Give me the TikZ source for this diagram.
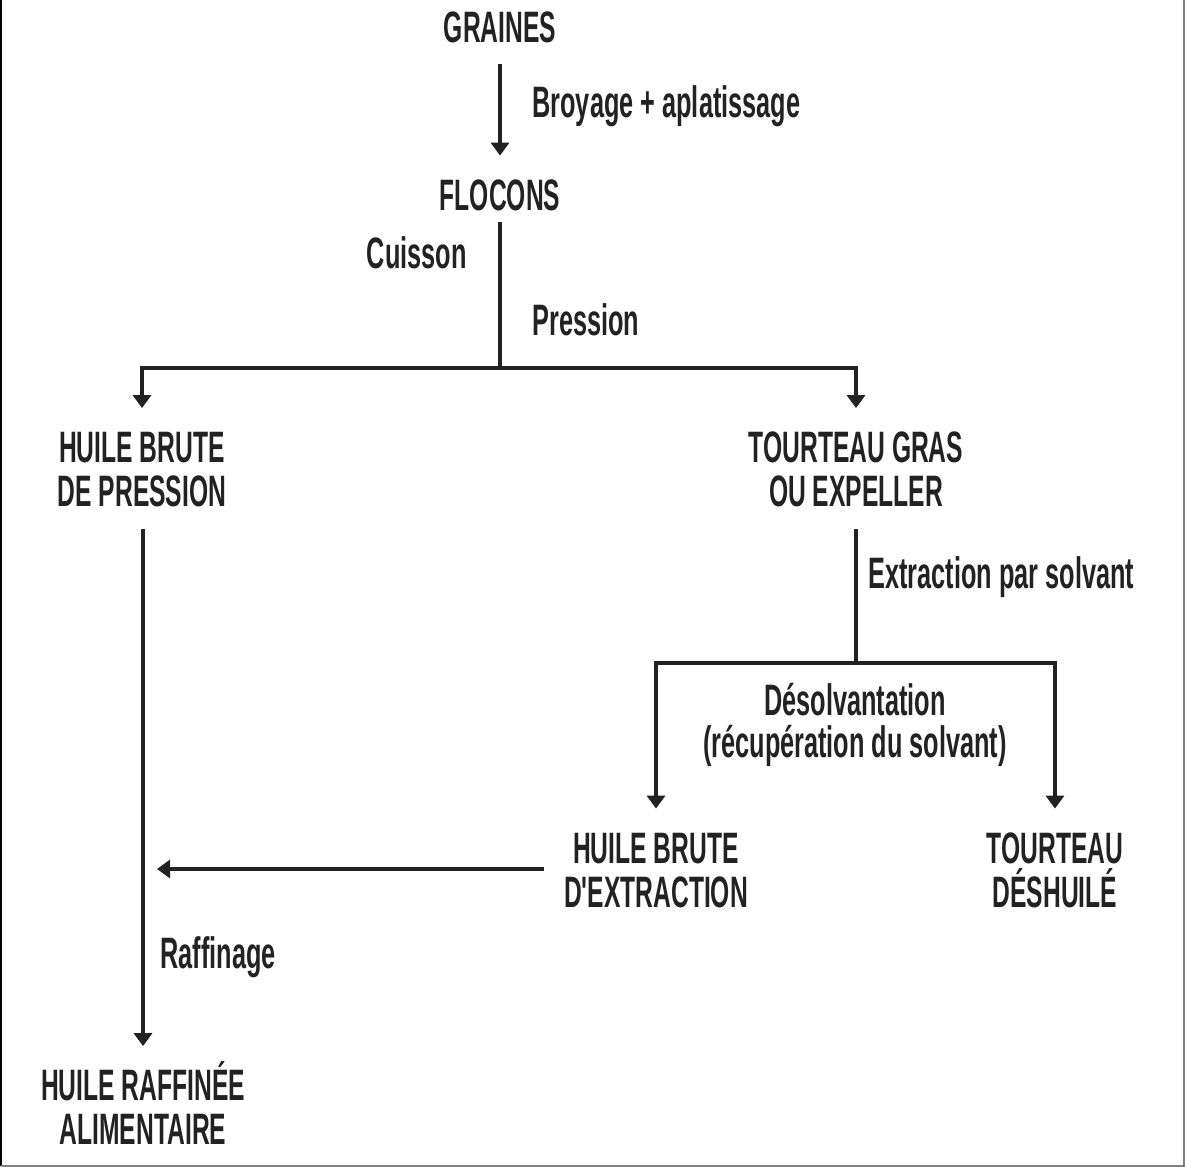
\documentclass[tikz,border=0pt]{standalone}
\usepackage{fontspec}
\newfontfamily\cfont{Liberation Sans}[FakeStretch=0.56]
\newfontfamily\lfont{Liberation Sans}[FakeStretch=0.575]
\usetikzlibrary{arrows.meta}
\definecolor{ink}{HTML}{222222}
\tikzset{
  stage/.style={font=\cfont\bfseries\fontsize{22}{22}\selectfont, align=center,
    text height=16pt, text depth=0pt, inner xsep=10pt, inner ysep=11pt, text=ink},
  stagetwo/.style={stage, text height=38pt},
  lbl/.style={font=\lfont\bfseries\fontsize{22}{26}\selectfont, inner sep=0pt, text=ink},
  conn/.style={line width=2pt, draw=ink},
  arr/.style={conn, -{Triangle[width=9pt,length=6.5pt]}},
}
\begin{document}
\begin{tikzpicture}[x=0.5pt,y=-0.5pt]
\useasboundingbox (0,0) rectangle (1185,1167);
% frame
\draw[line width=1pt, black] (0.5,0) -- (0.5,1166);
\draw[line width=1pt, gray] (0.5,1166) -- (1184,1166) -- (1184,0);

% stages
\node[stage] (graines) at (500,26) {GRAINES};
\node[stage] (flocons) at (500,194) {FLOCONS};
\node[stagetwo] (huilep) at (142,468.5) {HUILE BRUTE\\DE PRESSION};
\node[stagetwo] (tgras) at (856,468.5) {TOURTEAU GRAS\\OU EXPELLER};
\node[stagetwo] (huilee) at (656,869) {HUILE BRUTE\\D'EXTRACTION};
\node[stagetwo] (tdes) at (1055,869) {TOURTEAU\\DÉSHUILÉ};
\node[stagetwo] (huiler) at (143,1106.5) {HUILE RAFFINÉE\\ALIMENTAIRE};

% junctions
\coordinate (j1) at (500,368);
\coordinate (j2) at (856,663);
\coordinate (tipx) at (157,869);

% connectors
\draw[arr] (graines.south) -- (flocons.north);
\draw[conn, shorten <=-5pt] (flocons.south) -- (j1);
\draw[arr] (j1) -| (huilep.north);
\draw[arr] (j1) -| (tgras.north);
\draw[conn] (tgras.south) -- (j2);
\draw[arr] (j2) -| (huilee.north);
\draw[arr] (j2) -| (tdes.north);
\draw[arr] (huilee.west) -- (tipx);
\draw[arr] (huilep.south -| huiler.north) -- (huiler.north);

% labels
\node[lbl, anchor=base west] (l1) at (532,117) {Broyage + aplatissage};
\node[lbl, anchor=base east] (l2) at (467,268) {Cuisson};
\node[lbl, anchor=base west] (l3) at (532,335) {Pression};
\node[lbl, anchor=base west] (l4) at (868,588) {Extraction par solvant};
\node[lbl, anchor=base] (l5) at (855,715) {Désolvantation};
\node[lbl, anchor=base] (l6) at (855,757) {(récupération du solvant)};
\node[lbl, anchor=base west] (l7) at (160,968) {Raffinage};
\end{tikzpicture}
\end{document}
